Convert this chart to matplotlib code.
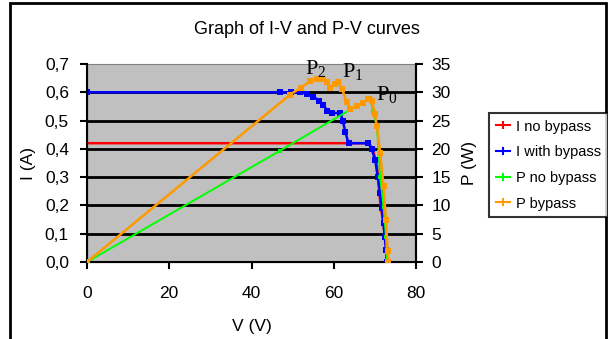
import matplotlib
matplotlib.use("Agg")
import matplotlib.pyplot as plt
from matplotlib import font_manager
from matplotlib.lines import Line2D
from matplotlib.patches import Rectangle

names = {f.name for f in font_manager.fontManager.ttflist}
base = 'Liberation Sans Narrow' if 'Liberation Sans Narrow' in names else 'Liberation Sans'
plt.rcParams['font.family'] = [base, 'DejaVu Sans']
plt.rcParams['mathtext.fontset'] = 'custom'
plt.rcParams['mathtext.rm'] = 'Liberation Serif'

# I no bypass (A)
v_i_nobp = [0, 63.5, 68.5, 69.5, 70.5, 71.3, 72.1, 72.7, 72.9]
i_nobp = [0.42, 0.42, 0.42, 0.40, 0.34, 0.21, 0.13, 0.06, 0.0]

# I with bypass (A)
v_i_bp = [0, 47, 49.5, 51.8, 53.5, 55.0, 56.5, 57.5, 58.4, 59.5, 61.6, 62.2,
          62.8, 63.6, 68.4, 69.2, 70.1, 70.7, 71.3, 71.7, 72.1, 72.4, 72.7, 72.9]
i_bp = [0.60, 0.60, 0.60, 0.60, 0.595, 0.585, 0.57, 0.555, 0.535, 0.527, 0.527, 0.50,
        0.46, 0.42, 0.42, 0.40, 0.36, 0.30, 0.244, 0.19, 0.138, 0.09, 0.042, 0.0]

# P no bypass (W)
v_p_nobp = [0, 47, 68.9, 69.6, 70.5, 71.3, 72.1, 72.7, 72.9]
p_nobp = [0, 19.7, 29.0, 26.5, 24.0, 15.0, 9.8, 4.5, 0.0]

# P bypass (W)
v_p_bp = [0, 49.4, 52.0, 54.3, 56.0, 57.5, 58.4, 59.1, 60.2, 61.1, 62.0, 63.2,
          64.0, 65.6, 67.0, 68.4, 69.3, 70.0, 70.5, 71.3, 72.1, 72.7, 73.1, 73.3]
p_bp = [0, 29.6, 30.8, 32.0, 32.3, 32.3, 31.8, 30.8, 31.4, 31.8, 30.6, 28.2,
        27.0, 27.5, 28.1, 28.8, 28.4, 26.2, 24.0, 19.3, 13.4, 7.4, 2.0, 0.0]

i_ticks = [0.0, 0.1, 0.2, 0.3, 0.4, 0.5, 0.6, 0.7]
i_labels = ['0,0', '0,1', '0,2', '0,3', '0,4', '0,5', '0,6', '0,7']
p_ticks = [0, 5, 10, 15, 20, 25, 30, 35]
v_ticks = [0, 20, 40, 60, 80]
series_names = ['I no bypass', 'I with bypass', 'P no bypass', 'P bypass']
series_colors = ['#ff0000', '#0000ff', '#00ff00', '#ff9900']

fig = plt.figure(figsize=(6.08, 3.39), dpi=100)
fig.patch.set_facecolor('white')
fig.patches.append(Rectangle((10 / 608, -0.05), 596 / 608, 1.05 - 3 / 339,
                             transform=fig.transFigure, fill=False,
                             edgecolor='black', linewidth=2))

ax = fig.add_axes([87 / 608, 1 - 262 / 339, 329 / 608, 198 / 339])
ax.set_facecolor('#c0c0c0')
ax.set_xlim(0, 80)
ax.set_ylim(0, 0.7)
ax.set_yticks(i_ticks)
ax.set_yticklabels(i_labels)
ax.set_xticks(v_ticks)
for y in i_ticks[1:-1]:
    ax.axhline(y, color='black', linewidth=2, zorder=1)
for s in ['left', 'right', 'bottom']:
    ax.spines[s].set_color('black')
    ax.spines[s].set_linewidth(1.5)
ax.spines['top'].set_color('#808080')
ax.tick_params(direction='out', length=5, width=1.5, labelsize=12.5)
ax.tick_params(axis='x', pad=12)
ax.tick_params(axis='y', pad=8)

ax2 = ax.twinx()
ax2.set_ylim(0, 35)
ax2.set_yticks(p_ticks)
ax2.tick_params(direction='out', length=5, width=1.5, labelsize=12.5, pad=6)
ax2.spines['right'].set_linewidth(1.5)
ax2.spines['top'].set_visible(False)

ax.plot(v_i_nobp, i_nobp, color=series_colors[0], lw=1.8, marker='s', ms=2, mew=0, zorder=3)
ax.plot(v_i_bp, i_bp, color=series_colors[1], lw=1.8, marker='s', ms=4, mew=0, zorder=4)
ax2.plot(v_p_nobp, p_nobp, color=series_colors[2], lw=1.4, marker='s', ms=2.5, mew=0, zorder=5)
ax2.plot(v_p_bp, p_bp, color=series_colors[3], lw=1.8, marker='s', ms=4, mew=0, zorder=6)

ax.set_xlabel('V (V)', fontsize=12.5, labelpad=13)
ax.set_ylabel('I (A)', fontsize=12.5, labelpad=6)
ax2.set_ylabel('P (W)', fontsize=12.5, labelpad=8)
fig.text(307 / 608, 1 - 29 / 339, 'Graph of I-V and P-V curves',
         ha='center', va='center', fontsize=13)

for txt, x, y in [('P$_2$', 305, 74), ('P$_1$', 342, 77), ('P$_0$', 376, 100)]:
    fig.text(x / 608, 1 - y / 339, txt, ha='left', va='baseline',
             fontsize=16, family='Liberation Serif')

handles = [Line2D([], [], color=c, lw=1.5, marker='|', ms=6, mew=1.5)
           for c in series_colors]
leg = fig.legend(handles, series_names,
                 loc='upper left', bbox_to_anchor=(489 / 608, 1 - 113 / 339),
                 frameon=True, fancybox=False, fontsize=10.5, handlelength=1.0,
                 handletextpad=0.4, borderpad=0.45, labelspacing=0.8,
                 borderaxespad=0)
leg.get_frame().set_edgecolor('black')
leg.get_frame().set_linewidth(1.5)

fig.savefig('out.png', dpi=100)
